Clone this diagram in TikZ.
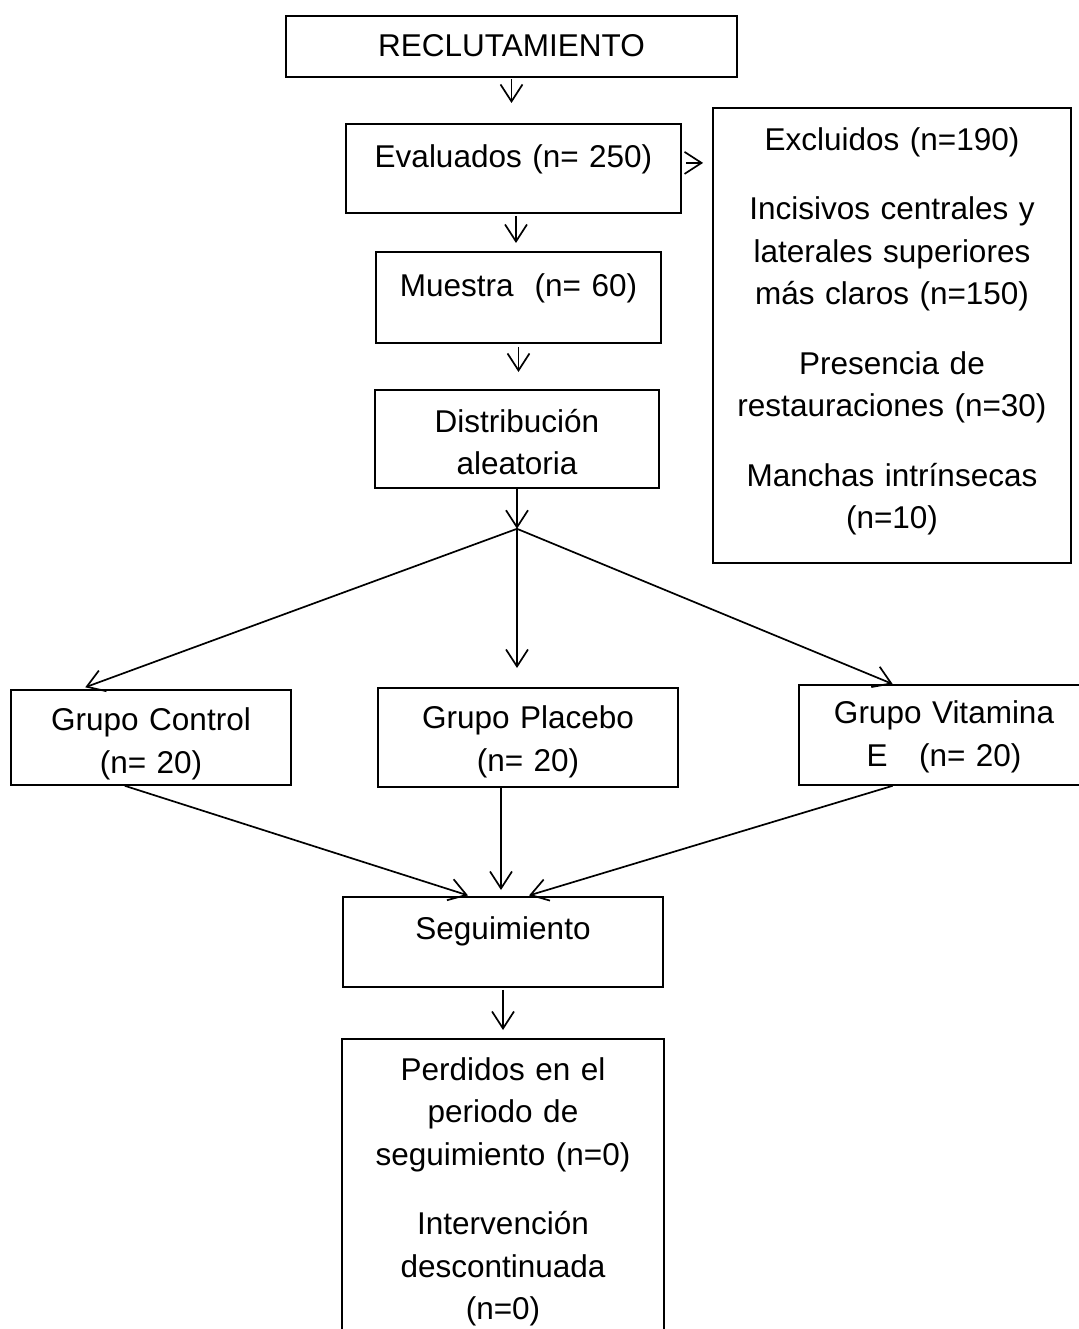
\documentclass[tikz,border=0pt]{standalone}
\usepackage{fontspec}
\setmainfont{Liberation Sans}
\usetikzlibrary{arrows.meta,calc}
\tikzset{
  stagebox/.style={
    rectangle, draw=black, line width=1.8pt, inner sep=0pt,
    align=center, anchor=north, text width=#1,
    font=\fontsize{31.5}{42.5}\selectfont
  },
  stagearrow/.style={-{Straight Barb[length=17pt,width=22pt]}, line width=1.7pt}
}

\begin{document}
\begin{tikzpicture}[x=1pt,y=-1pt]
\useasboundingbox (0,0) rectangle (1078,1329);
\fill[white] (0,0) rectangle (1078,1329);

\node[stagebox=451pt, text height=40.5pt, text depth=20.5pt] (recl) at (511.5,15) {RECLUTAMIENTO};
\node[stagebox=335pt, text height=43.5pt, text depth=45.5pt] (eval) at (513.5,123) {Evaluados (n= 250)};
\node[stagebox=358pt, text height=42.5pt, text depth=412.5pt] (excl) at (892,107)
  {Excluidos (n=190)\\[27pt]
   Incisivos centrales y\\laterales superiores\\más claros (n=150)\\[27pt]
   Presencia de\\restauraciones (n=30)\\[27pt]
   Manchas intrínsecas\\(n=10)};
\node[stagebox=285pt, text height=44.5pt, text depth=46.5pt] (musr) at (518.5,251) {Muestra\ \ (n= 60)};
\node[stagebox=284pt, text height=42.5pt, text depth=55.5pt] (dist) at (517,389) {Distribución\\aleatoria};

\node[stagebox=280pt, text height=41pt, text depth=54pt] (ctrl) at (151,689) {Grupo Control\\(n= 20)};
\node[stagebox=300pt, text height=41pt, text depth=58pt] (plac) at (528,687) {Grupo Placebo\\(n= 20)};
\node[stagebox=290pt, text height=39pt, text depth=61pt] (vitE) at (944,684) {Grupo Vitamina\\E\ \ \ (n= 20)};

\node[stagebox=320pt, text height=42.5pt, text depth=47.5pt] (segu) at (503,896) {Seguimiento};
\node[stagebox=320pt, draw=none, text height=40.5pt, text depth=249.5pt] (perd) at (503,1039)
  {Perdidos en el\\periodo de\\seguimiento (n=0)\\[27pt]
   Intervención\\descontinuada\\(n=0)};
\draw[line width=1.8pt] (perd.south west) -- (perd.north west) -- (perd.north east) -- (perd.south east);

% arrows
\coordinate (split) at ([yshift=-40pt]dist.south);
\draw[stagearrow, shorten <=1pt, shorten >=20pt] (recl.south) -- (recl.south |- eval.north);
\draw[stagearrow, shorten <=4pt, shorten >=9pt] ([yshift=5.5pt]eval.east) -- ([yshift=5.5pt]eval.east -| excl.west);
\draw[stagearrow, shorten <=2pt, shorten >=8pt] ([xshift=2.5pt]eval.south) -- ([xshift=2.5pt]eval.south |- musr.north);
\draw[stagearrow, shorten <=3pt, shorten >=17pt] (musr.south) -- (musr.south |- dist.north);
\draw[stagearrow] (dist.south) -- (split);
\draw[stagearrow, shorten >=5pt] (split) -- ($(ctrl.north west)!0.25!(ctrl.north east)$);
\draw[stagearrow, shorten >=19pt] (split) -- (split |- plac.north);
\draw[stagearrow] (split) -- ($(vitE.north west)!0.324!(vitE.north east)$);
\draw[stagearrow, shorten >=2pt] ($(ctrl.south west)!0.407!(ctrl.south east)$) -- ($(segu.north west)!0.397!(segu.north east)$);
\draw[stagearrow, shorten >=6pt] ([xshift=-27pt]plac.south) -- ([xshift=-27pt]plac.south |- segu.north);
\draw[stagearrow, shorten >=2pt] ($(vitE.south west)!0.324!(vitE.south east)$) -- ($(segu.north west)!0.575!(segu.north east)$);
\draw[stagearrow, shorten <=2pt, shorten >=9pt] (segu.south) -- (segu.south |- perd.north);
\end{tikzpicture}
\end{document}
